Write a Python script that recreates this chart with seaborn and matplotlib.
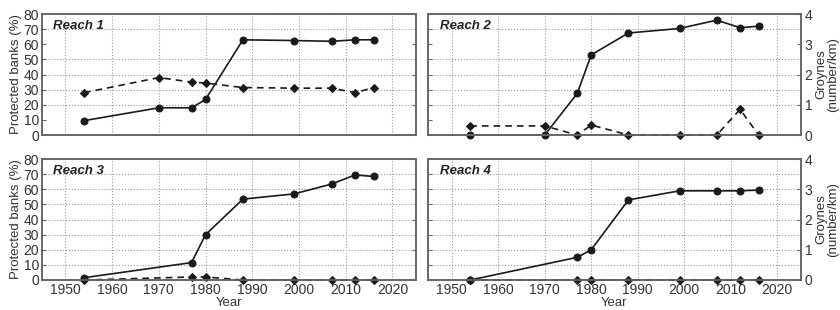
import numpy as np
import pandas as pd
import matplotlib
matplotlib.use("Agg")
import matplotlib.pyplot as plt
import seaborn as sns

# survey years
years_12 = [1954, 1970, 1977, 1980, 1988, 1999, 2007, 2012, 2016]
years_34 = [1954, 1977, 1980, 1988, 1999, 2007, 2012, 2016]

# protected banks (%) and groynes (number/km) per reach
bank1 = [9.5, 18, 18, 23.5, 63, 62.5, 62, 63, 63]
groyne1 = [1.4, 1.9, 1.75, 1.72, 1.57, 1.55, 1.55, 1.4, 1.57]
bank2 = [0, 0, 27.5, 53, 67.5, 70.5, 76, 71, 72]
groyne2 = [0.3, 0.3, 0, 0.33, 0, 0, 0, 0.85, 0]
bank3 = [1.5, 11.5, 30, 53.5, 57, 63.5, 69.5, 68.5]
groyne3 = [0, 0.1, 0.1, 0, 0, 0, 0, 0]
bank4 = [0, 15, 20, 53, 59, 59, 59, 59.5]
groyne4 = [0, 0, 0, 0, 0, 0, 0, 0]

reach_names = ["Reach 1", "Reach 2", "Reach 3", "Reach 4"]

sns.set_style("white")
plt.rcParams['font.family'] = ['Liberation Sans', 'DejaVu Sans']
plt.rcParams['text.color'] = '#333333'
plt.rcParams['axes.labelcolor'] = '#333333'
plt.rcParams['xtick.color'] = '#333333'
plt.rcParams['ytick.color'] = '#333333'

line_col = '#1a1a1a'
spine_col = '#666666'
fs = 9.5

fig = plt.figure(figsize=(8.4, 3.1), dpi=100)
boxes = [
    [0.050, 0.5645, 0.445, 0.390],
    [0.510, 0.5645, 0.443, 0.390],
    [0.050, 0.0968, 0.445, 0.390],
    [0.510, 0.0968, 0.443, 0.390],
]
data = [
    (years_12, bank1, groyne1),
    (years_12, bank2, groyne2),
    (years_34, bank3, groyne3),
    (years_34, bank4, groyne4),
]

for i, (box, (yrs, bank, groyne)) in enumerate(zip(boxes, data)):
    ax = fig.add_axes(box)
    ax2 = ax.twinx()
    df = pd.DataFrame({'Year': yrs, 'Bank': bank, 'Groyne': groyne})

    sns.lineplot(data=df, x='Year', y='Bank', ax=ax, color=line_col, lw=1.2,
                 marker='o', markersize=5, markeredgecolor=line_col, clip_on=False)
    sns.lineplot(data=df, x='Year', y='Groyne', ax=ax2, color=line_col, lw=1.2,
                 ls=(0, (4, 3)), marker='D', markersize=4,
                 markeredgecolor=line_col, clip_on=False)

    ax.set_xlim(1945, 2025)
    ax.set_ylim(0, 80)
    ax2.set_ylim(0, 4)
    ax.set_xticks(range(1950, 2021, 10))
    ax.set_yticks(range(0, 81, 10))
    ax2.set_yticks(range(0, 5))
    ax.grid(True, ls=':', color='#999999', lw=0.8)
    if i < 2:
        # top row: some horizontal grid lines are not drawn in the original
        for val, gl in zip(ax.get_yticks(), ax.get_ygridlines()):
            if val in (10, 60):
                gl.set_visible(False)
    ax.set_axisbelow(True)

    ax.tick_params(direction='in', length=3, labelsize=fs + 0.5, pad=2, color=spine_col)
    ax2.tick_params(direction='in', length=3, labelsize=fs + 0.5, pad=3, color=spine_col)
    for a in (ax, ax2):
        for s in a.spines.values():
            s.set_color(spine_col)
            s.set_linewidth(1.2)

    if i < 2:
        ax.set_xticklabels([])
        ax.set_xlabel('')
    else:
        ax.set_xlabel('Year', fontsize=fs, labelpad=0)

    if i % 2 == 0:
        ax.set_ylabel('Protected banks (%)', fontsize=fs, labelpad=1)
        ax2.set_yticklabels([])
        ax2.set_ylabel('')
    else:
        ax.set_yticklabels([])
        ax.set_ylabel('')
        ax2.set_ylabel('Groynes\n(number/km)', fontsize=fs, labelpad=2,
                       linespacing=0.95)

    ax.text(0.03, 0.9, reach_names[i], transform=ax.transAxes, fontsize=fs,
            fontweight='bold', fontstyle='italic', va='center', ha='left',
            color='#222222')

fig.savefig('out.png', dpi=100)
